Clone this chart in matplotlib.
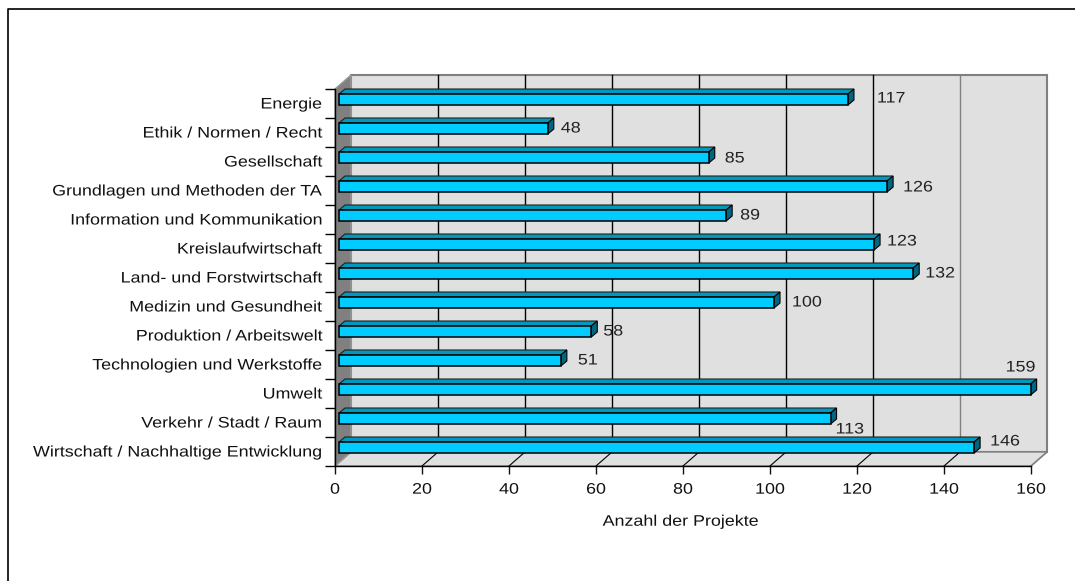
import matplotlib
matplotlib.use('Agg')
import matplotlib.pyplot as plt
from matplotlib.patches import Polygon
from matplotlib.patheffects import AbstractPathEffect
from matplotlib.transforms import Affine2D

categories = ['Energie', 'Ethik / Normen / Recht', 'Gesellschaft',
              'Grundlagen und Methoden der TA', 'Information und Kommunikation',
              'Kreislaufwirtschaft', 'Land- und Forstwirtschaft',
              'Medizin und Gesundheit', 'Produktion / Arbeitswelt',
              'Technologien und Werkstoffe', 'Umwelt', 'Verkehr / Stadt / Raum',
              'Wirtschaft / Nachhaltige Entwicklung']
values = [117, 48, 85, 126, 89, 123, 132, 100, 58, 51, 159, 113, 146]
x_ticks = [0, 20, 40, 60, 80, 100, 120, 140, 160]

W, H = 1075, 581
FONT = 'Liberation Sans'
FS = 11
WIDEN = 1.17


class Widen(AbstractPathEffect):
    # the original text is letter-spaced, so stretch it around its anchor
    def __init__(self, text):
        super().__init__()
        self.text = text

    def draw_path(self, renderer, gc, tpath, affine, rgbFace=None):
        x0 = self.text.get_transform().transform(self.text.get_position())[0]
        stretch = Affine2D().translate(-x0, 0).scale(WIDEN, 1).translate(x0, 0)
        renderer.draw_path(gc, tpath, affine + stretch, rgbFace)


fig = plt.figure(figsize=(W / 100, H / 100), dpi=100)
# axes box is the front plane of the 3D chart
ax = fig.add_axes([335 / W, 1 - 466 / H, 696 / W, 377 / H])
ax.set_xlim(0, 160)
ax.set_ylim(13, 0)
px_x = 160 / 696   # data units per pixel
px_y = 13 / 377

# depth of the wall box and of the bars, in pixels
dx, dy = 16 * px_x, 14 * px_y
bx, by = 6 * px_x, 5 * px_y
off_x, off_y = 4 * px_x, 4 * px_y
bar_h = 11 * px_y

ax.set_facecolor('none')
for s in ['top', 'right']:
    ax.spines[s].set_visible(False)
for s in ['left', 'bottom']:
    ax.spines[s].set_color('black')
    ax.spines[s].set_linewidth(1)

grey = '#808080'
wall = '#e0e0e0'
# back wall
ax.add_patch(Polygon([(dx, -dy), (160 + dx, -dy), (160 + dx, 13 - dy), (dx, 13 - dy)],
                     fc=wall, ec=grey, lw=1.5, clip_on=False, zorder=0))
# floor
ax.add_patch(Polygon([(0, 13), (160, 13), (160 + dx, 13 - dy), (dx, 13 - dy)],
                     fc=wall, ec=grey, lw=1, clip_on=False, zorder=0.5))
# left wall
ax.add_patch(Polygon([(0, 0), (dx, -dy), (dx, 13 - dy), (0, 13)],
                     fc=grey, ec='#999999', lw=1, clip_on=False, zorder=0.6))

for t in x_ticks[1:-1]:
    c = grey if t == 140 else 'black'
    ax.plot([t + dx, t + dx], [-dy, 13 - dy], color=c, lw=1, clip_on=False, zorder=1)
    ax.plot([t, t + dx], [13, 13 - dy], color='black', lw=0.8, clip_on=False, zorder=1)
ax.plot([160, 160 + dx], [13, 13 - dy], color=grey, lw=1, clip_on=False, zorder=1)

# bars
for i, v in enumerate(values):
    y0 = i + 0.5 - off_y - bar_h / 2
    y1 = y0 + bar_h
    x0 = off_x
    x1 = v + off_x
    ax.add_patch(Polygon([(x0, y0), (x0 + bx, y0 - by), (x1 + bx, y0 - by), (x1, y0)],
                         fc='#0099bb', ec='#202020', lw=0.8, clip_on=False, zorder=3))
    ax.add_patch(Polygon([(x1, y0), (x1 + bx, y0 - by), (x1 + bx, y1 - by), (x1, y1)],
                         fc='#006680', ec='black', lw=0.8, clip_on=False, zorder=3))
ax.barh([i + 0.5 - off_y for i in range(len(values))], values, height=bar_h, left=off_x,
        color='#00ccff', edgecolor='black', linewidth=1.1, clip_on=False, zorder=4)

ax.set_xticks(x_ticks)
ax.set_yticks(range(14))
ax.set_yticklabels([])
ax.tick_params(axis='x', length=6, width=1, pad=6, labelsize=FS, labelfontfamily=FONT, colors='#111111')
ax.tick_params(axis='y', length=7, width=1)

# category labels sit between the ticks
for i, name in enumerate(categories):
    t = ax.text(-13 * px_x, i + 0.5 + px_y, name, ha='right', va='center', fontsize=FS,
                family=FONT, color='#111111', clip_on=False)
    t.set_path_effects([Widen(t)])

# value labels, nudged by hand like in the original (pixels from bar end / row centre)
label_pos = [(29, -5), (13, -4), (16, -3), (16, -3), (14, -4), (13, -7), (12, -4),
             (18, -4), (12, -4), (17, -4), (-25, -26), (5, 7), (16, -10)]
for i, v in enumerate(values):
    ox, oy = label_pos[i]
    t = ax.text(v + off_x + ox * px_x, i + 0.5 + oy * px_y, str(v), ha='left', va='center',
                fontsize=FS, family=FONT, color='#222222', zorder=5)
    t.set_path_effects([Widen(t)])

ax.set_xlabel('Anzahl der Projekte', fontsize=FS, family=FONT, labelpad=13, color='#111111', x=0.4964)
ax.xaxis.label.set_path_effects([Widen(ax.xaxis.label)])
for t in ax.get_xticklabels():
    t.set_path_effects([Widen(t)])

# outer frame: only the left and top lines are in the picture
fig.add_artist(plt.Line2D([8 / W, 8 / W, 1], [0, 1 - 9 / H, 1 - 9 / H], color='black', lw=1.2))

fig.savefig('out.png', dpi=100)
